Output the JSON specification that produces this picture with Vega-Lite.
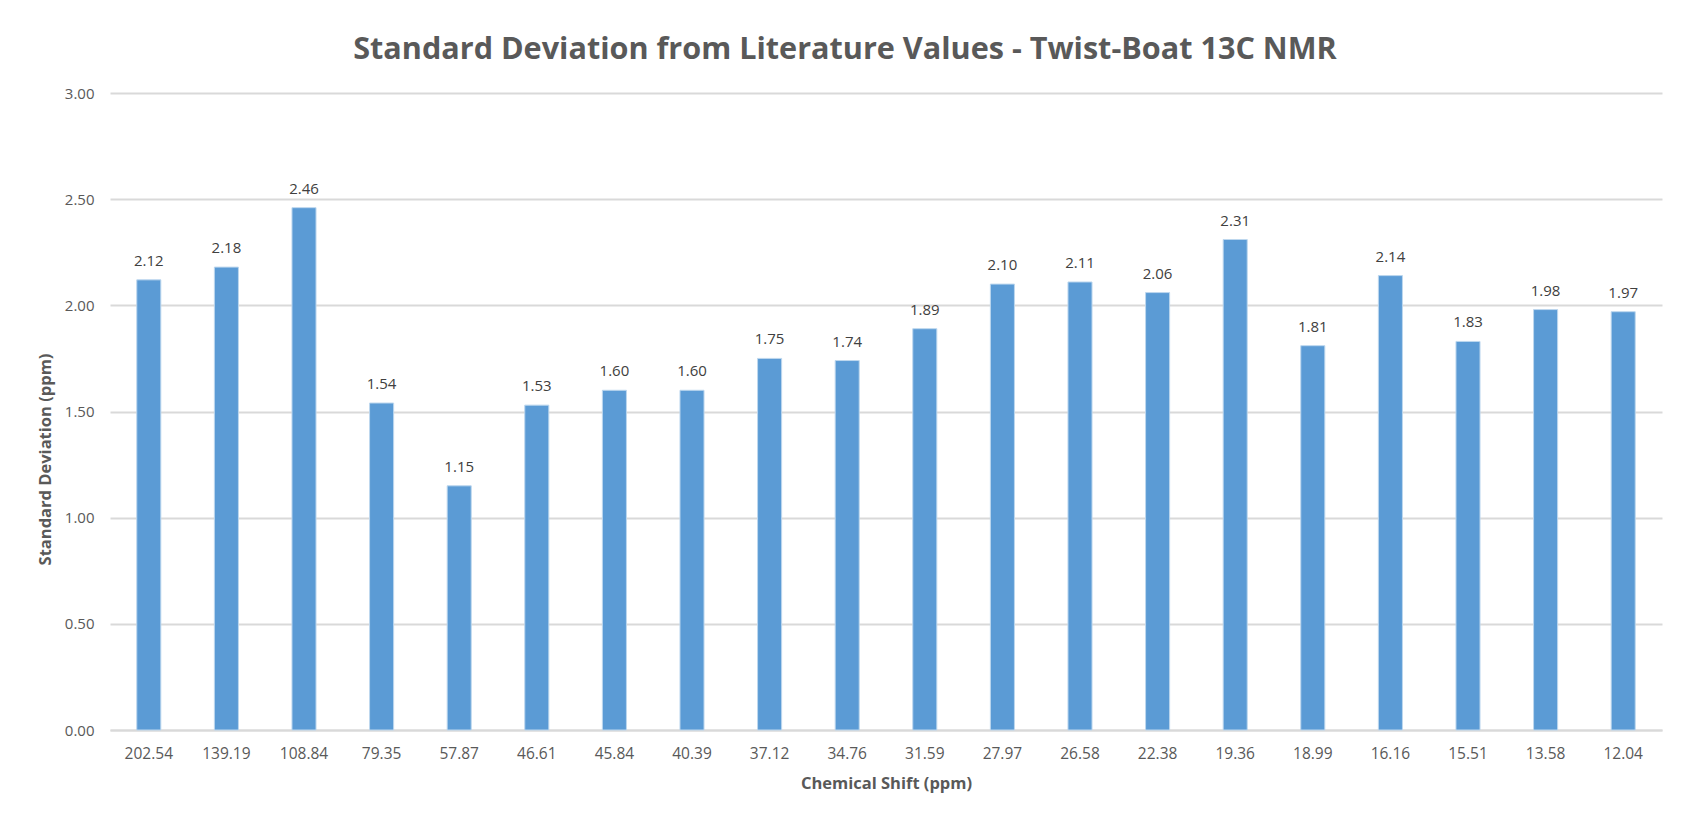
{
  "$schema": "https://vega.github.io/schema/vega-lite/v6.json",
  "autosize": {"type": "none"},
  "width": 1552,
  "height": 637,
  "padding": {"left": 110, "top": 93, "right": 28, "bottom": 98},
  "background": "#ffffff",
  "title": {
    "text": "Standard Deviation from Literature Values - Twist-Boat 13C NMR",
    "font": "Open Sans",
    "fontSize": 30.6,
    "fontWeight": "bold",
    "color": "#595959",
    "anchor": "middle",
    "dx": -41,
    "offset": 20
  },
  "data": {
    "values": [
      {"shift": "202.54", "sd": 2.12},
      {"shift": "139.19", "sd": 2.18},
      {"shift": "108.84", "sd": 2.46},
      {"shift": "79.35", "sd": 1.54},
      {"shift": "57.87", "sd": 1.15},
      {"shift": "46.61", "sd": 1.53},
      {"shift": "45.84", "sd": 1.60},
      {"shift": "40.39", "sd": 1.60},
      {"shift": "37.12", "sd": 1.75},
      {"shift": "34.76", "sd": 1.74},
      {"shift": "31.59", "sd": 1.89},
      {"shift": "27.97", "sd": 2.10},
      {"shift": "26.58", "sd": 2.11},
      {"shift": "22.38", "sd": 2.06},
      {"shift": "19.36", "sd": 2.31},
      {"shift": "18.99", "sd": 1.81},
      {"shift": "16.16", "sd": 2.14},
      {"shift": "15.51", "sd": 1.83},
      {"shift": "13.58", "sd": 1.98},
      {"shift": "12.04", "sd": 1.97}
    ]
  },
  "encoding": {
    "x": {
      "field": "shift",
      "type": "nominal",
      "sort": null,
      "scale": {"paddingInner": 0.69, "paddingOuter": 0.345},
      "axis": {
        "title": "Chemical Shift (ppm)",
        "labelAngle": 0,
        "labelFont": "Open Sans",
        "labelFontSize": 15.5,
        "labelColor": "#595959",
        "labelBaseline": "middle",
        "labelPadding": 23,
        "ticks": false,
        "domainColor": "#d9d9d9",
        "domainWidth": 2,
        "titleFont": "Open Sans",
        "titleFontSize": 16.5,
        "titleFontWeight": "bold",
        "titleColor": "#595959",
        "titleBaseline": "middle",
        "titleY": 53
      }
    },
    "y": {
      "field": "sd",
      "type": "quantitative",
      "scale": {"domain": [0, 3]},
      "axis": {
        "title": "Standard Deviation (ppm)",
        "values": [0, 0.5, 1, 1.5, 2, 2.5, 3],
        "format": ".2f",
        "labelFont": "Open Sans",
        "labelFontSize": 15,
        "labelColor": "#595959",
        "labelPadding": 16,
        "ticks": false,
        "domain": false,
        "gridColor": "#d9d9d9",
        "gridWidth": 2,
        "titleFont": "Open Sans",
        "titleFontSize": 16.5,
        "titleFontWeight": "bold",
        "titleColor": "#595959",
        "titleAngle": -90,
        "titleAlign": "center",
        "titleBaseline": "middle",
        "titleX": -65,
        "titleY": 366
      }
    }
  },
  "layer": [
    {
      "mark": {"type": "bar", "color": "#5B9BD5", "stroke": "#BDD7EE", "strokeWidth": 1}
    },
    {
      "mark": {"type": "text", "font": "Open Sans", "fontSize": 15, "color": "#404040", "baseline": "middle", "dy": -19},
      "encoding": {"text": {"field": "sd", "type": "quantitative", "format": ".2f"}}
    }
  ],
  "config": {"view": {"stroke": null}}
}
